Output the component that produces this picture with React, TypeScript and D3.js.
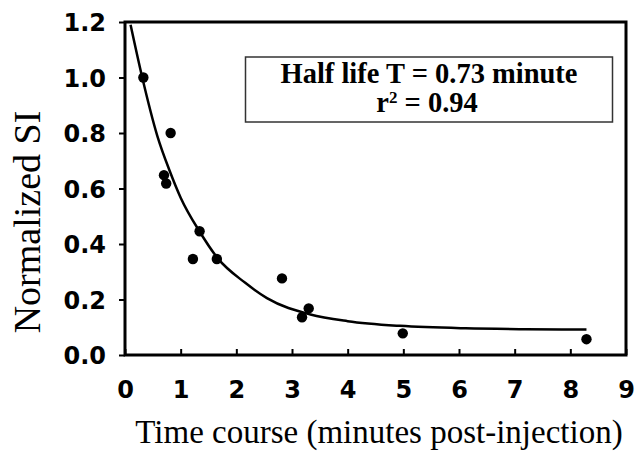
import { useEffect, useRef } from "react";
import * as d3 from "d3";

// measured points (minutes post-injection, normalized SI)
const timeMin = [0.33, 0.7, 0.74, 0.82, 1.22, 1.34, 1.65, 2.82, 3.18, 3.3, 4.99, 8.29];
const normSI = [1.0, 0.648, 0.618, 0.8, 0.346, 0.446, 0.346, 0.276, 0.136, 0.168, 0.078, 0.057];

// fitted decay curve
const fitTime = [0.1, 0.31, 0.58, 0.8, 1.0, 1.34, 1.66, 2.16, 2.55, 3.33, 4.0, 4.94, 6.12, 7.2, 8.29];
const fitSI = [1.19, 1.0, 0.79, 0.665, 0.567, 0.445, 0.35, 0.26, 0.205, 0.146, 0.122, 0.105, 0.096, 0.093, 0.092];

const xTicks = [0, 1, 2, 3, 4, 5, 6, 7, 8, 9];
const yTicks = [0, 0.2, 0.4, 0.6, 0.8, 1.0, 1.2];

const W = 639;
const H = 451;

const App = () => {
  const svgRef = useRef<SVGSVGElement>(null);

  useEffect(() => {
    const svg = d3.select(svgRef.current);
    svg.selectAll("*").remove();

    const margin = { top: 22, right: 13, bottom: 96, left: 125 };
    const xScale = d3.scaleLinear().domain([0, 9]).range([margin.left, W - margin.right]);
    const yScale = d3.scaleLinear().domain([0, 1.2]).range([H - margin.bottom, margin.top]);
    const x0 = xScale(0);
    const x1 = xScale(9);
    const y0 = yScale(0);
    const y1 = yScale(1.2);

    const sans = "'DejaVu Sans', sans-serif";
    const serif = "'Liberation Serif', 'Times New Roman', serif";

    // X axis: ticks point inward
    const xAxis = svg
      .append("g")
      .attr("transform", `translate(0, ${y0})`)
      .call(d3.axisBottom(xScale).tickValues(xTicks).tickSize(-6).tickPadding(20).tickFormat(d3.format("d")));
    xAxis.select(".domain").remove();
    xAxis.selectAll("line").attr("stroke", "#000").attr("stroke-width", 2);
    xAxis
      .selectAll("text")
      .attr("font-family", sans)
      .attr("font-weight", "bold")
      .attr("font-size", 24)
      .attr("fill", "#000")
      .attr("dy", "0.95em");

    // Y axis: ticks point outward
    const yAxis = svg
      .append("g")
      .attr("transform", `translate(${x0}, 0)`)
      .call(d3.axisLeft(yScale).tickValues(yTicks).tickSize(6).tickPadding(13).tickFormat(d3.format(".1f")));
    yAxis.select(".domain").remove();
    yAxis.selectAll("line").attr("stroke", "#000").attr("stroke-width", 2);
    yAxis
      .selectAll("text")
      .attr("font-family", sans)
      .attr("font-weight", "bold")
      .attr("font-size", 24)
      .attr("fill", "#000")
      .attr("dy", "0.36em");

    // frame
    svg
      .append("rect")
      .attr("x", x0)
      .attr("y", y1)
      .attr("width", x1 - x0)
      .attr("height", y0 - y1)
      .attr("fill", "none")
      .attr("stroke", "#000")
      .attr("stroke-width", 3);

    // fit line
    const line = d3
      .line<number>()
      .x((d, i) => xScale(fitTime[i]))
      .y((d) => yScale(d))
      .curve(d3.curveMonotoneX);

    svg
      .append("path")
      .datum(fitSI)
      .attr("d", line)
      .attr("fill", "none")
      .attr("stroke", "#000")
      .attr("stroke-width", 2.5);

    // points
    svg
      .selectAll("circle.pt")
      .data(timeMin)
      .enter()
      .append("circle")
      .attr("class", "pt")
      .attr("cx", (d) => xScale(d))
      .attr("cy", (d, i) => yScale(normSI[i]))
      .attr("r", 5.2)
      .attr("fill", "#000");

    // annotation box
    const box = svg.append("g");
    box
      .append("rect")
      .attr("x", 245.5)
      .attr("y", 57)
      .attr("width", 367)
      .attr("height", 65)
      .attr("fill", "#fff")
      .attr("stroke", "#333")
      .attr("stroke-width", 1.5);
    box
      .append("text")
      .attr("x", 429)
      .attr("y", 83)
      .attr("text-anchor", "middle")
      .attr("font-family", serif)
      .attr("font-weight", "bold")
      .attr("font-size", 28.5)
      .text("Half life T = 0.73 minute");
    const r2 = box
      .append("text")
      .attr("x", 427)
      .attr("y", 112)
      .attr("text-anchor", "middle")
      .attr("font-family", serif)
      .attr("font-weight", "bold")
      .attr("font-size", 28.5);
    r2.append("tspan").text("r");
    r2.append("tspan").attr("font-size", 17).attr("dy", -9).text("2");
    r2.append("tspan").attr("dy", 9).text(" = 0.94");

    // X axis title
    svg
      .append("text")
      .attr("x", 379)
      .attr("y", 443)
      .attr("text-anchor", "middle")
      .attr("font-family", serif)
      .attr("font-size", 33)
      .text("Time course (minutes post-injection)");

    // Y axis title
    svg
      .append("text")
      .attr("transform", "rotate(-90)")
      .attr("x", -222)
      .attr("y", 40)
      .attr("text-anchor", "middle")
      .attr("font-family", serif)
      .attr("font-size", 38)
      .text("Normalized SI");
  }, []);

  return (
    <svg
      ref={svgRef}
      width={W}
      height={H}
      style={{ position: "absolute", left: 0, top: 0, background: "#fff" }}
    ></svg>
  );
};

export default App;
